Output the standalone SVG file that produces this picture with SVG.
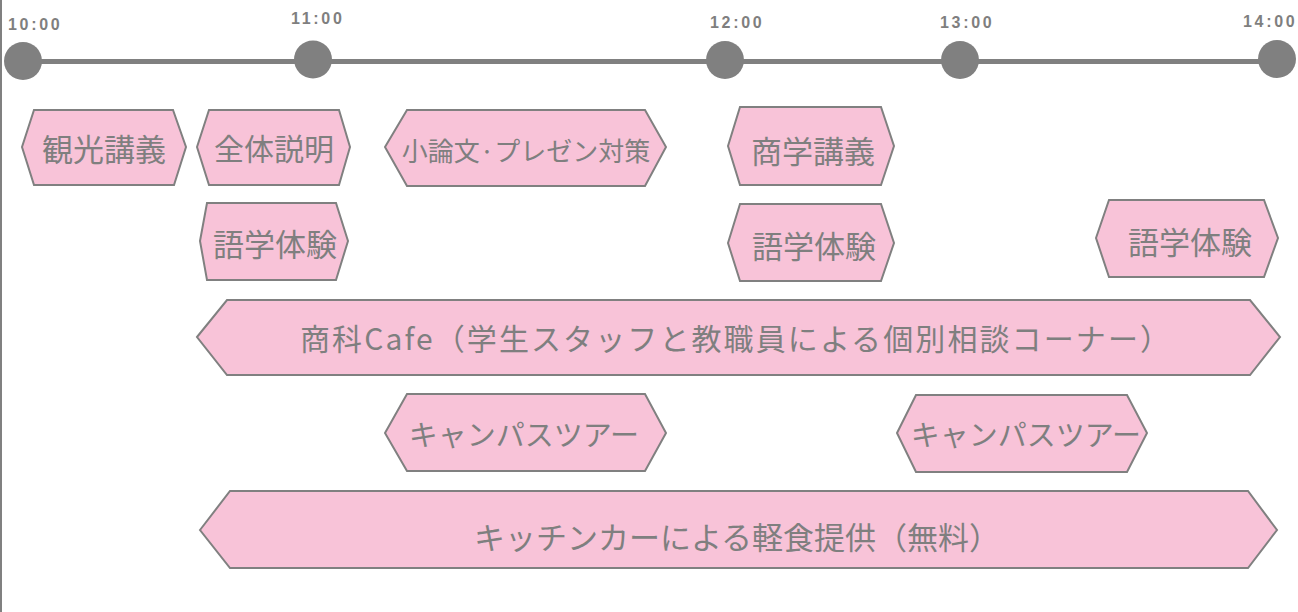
<svg xmlns="http://www.w3.org/2000/svg" width="1298" height="612" viewBox="0 0 1298 612">
<style>
.hex{fill:#f8c3d8;stroke:#808080;stroke-width:2;stroke-linejoin:miter}
.t{font-family:"Noto Sans CJK JP","Noto Sans",sans-serif;fill:#7f7f7f;text-anchor:middle;dominant-baseline:central}
.time{font-family:"Liberation Sans","DejaVu Sans",sans-serif;font-weight:bold;font-size:16px;letter-spacing:2.7px;fill:#7f7f7f}
.dot{fill:#808080}
</style>
<rect width="1298" height="612" fill="#ffffff"/>
<line x1="1" y1="0" x2="1" y2="612" stroke="#808080" stroke-width="2"/>
<g id="timeline">
<line x1="23" y1="61.5" x2="1277" y2="61.5" stroke="#808080" stroke-width="5"/>
<circle class="dot" cx="23" cy="61" r="19"/>
<circle class="dot" cx="313" cy="59.5" r="19"/>
<circle class="dot" cx="725" cy="60" r="19"/>
<circle class="dot" cx="960" cy="60" r="19"/>
<circle class="dot" cx="1277" cy="59" r="19"/>
<text class="time" x="8" y="30">10:00</text>
<text class="time" x="291" y="24">11:00</text>
<text class="time" x="710" y="28">12:00</text>
<text class="time" x="940" y="28">13:00</text>
<text class="time" x="1243" y="27">14:00</text>
</g>
<g id="connectors"></g>
<g id="n1"><polygon class="hex" points="22,147 34,110 173,110 186,147 174,185 34,185"/><text class="t" x="104" y="147" font-size="31">観光講義</text></g>
<g id="n2"><polygon class="hex" points="197,147 209,110 339,110 350,147 339,185 209,185"/><text class="t" x="274" y="147" font-size="30">全体説明</text></g>
<g id="n3"><polygon class="hex" points="385,147 407,110 645,110 666,147 645,186 407,186"/><text class="t" x="526" y="149" font-size="26">小論文·プレゼン対策</text></g>
<g id="n4"><polygon class="hex" points="728,146 740,107 881,107 894,146 881,185 740,185"/><text class="t" x="813" y="149" font-size="31">商学講義</text></g>
<g id="n5"><polygon class="hex" points="200,241 207,203 336,203 348,241 336,280 207,280"/><text class="t" x="275" y="242" font-size="31">語学体験</text></g>
<g id="n6"><polygon class="hex" points="728,243 740,204 881,204 894,243 881,281 740,281"/><text class="t" x="814" y="244" font-size="31">語学体験</text></g>
<g id="n7"><polygon class="hex" points="1096,238 1109,200 1264,200 1278,238 1264,277 1109,277"/><text class="t" x="1190" y="240" font-size="31">語学体験</text></g>
<g id="n8"><polygon class="hex" points="197,337 227,300 1250,300 1280,337 1250,375 227,375"/><text class="t" x="735" y="337" font-size="30" textLength="870" lengthAdjust="spacing">商科Cafe（学生スタッフと教職員による個別相談コーナー）</text></g>
<g id="n9"><polygon class="hex" points="385,433 407,394 645,394 666,433 645,471 407,471"/><text class="t" x="524" y="433" font-size="29">キャンパスツアー</text></g>
<g id="n10"><polygon class="hex" points="897,433 916,395 1127,395 1147,433 1127,472 916,472"/><text class="t" x="1026" y="433" font-size="29">キャンパスツアー</text></g>
<g id="n11"><polygon class="hex" points="200,530 230,491 1248,491 1277,530 1248,568 230,568"/><text class="t" x="737" y="535" font-size="31" textLength="526" lengthAdjust="spacing">キッチンカーによる軽食提供（無料）</text></g>
</svg>
